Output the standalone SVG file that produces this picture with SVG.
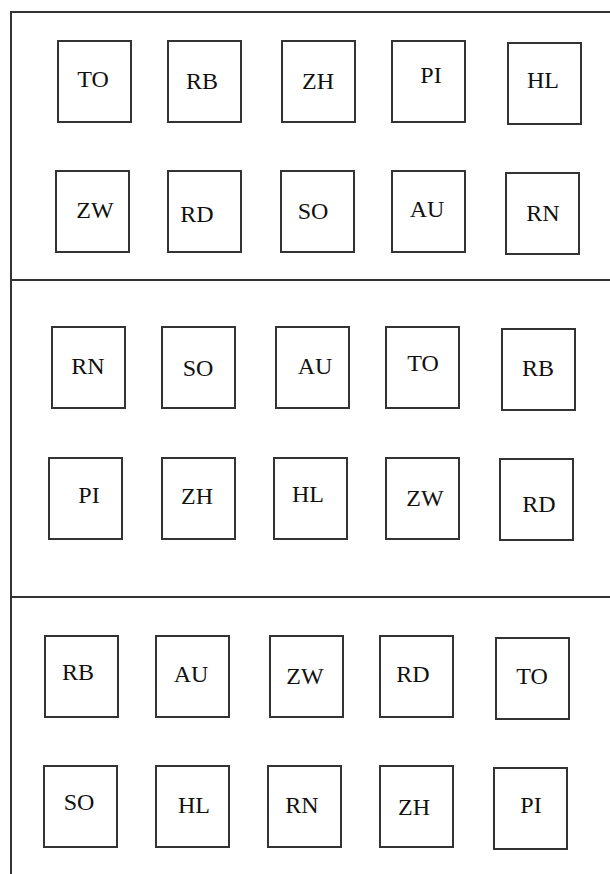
<svg xmlns="http://www.w3.org/2000/svg" width="610" height="874" viewBox="0 0 610 874">
<style>
.frame{fill:none;stroke:#333;stroke-width:2}
.box{fill:#fff;stroke:#333;stroke-width:2}
.lbl{font-family:"Liberation Serif","Times New Roman",serif;font-size:24px;fill:#111;text-anchor:middle}
</style>
<rect width="610" height="874" fill="#fff"/>
<g id="sections">
<path class="frame" d="M11,874 V12 H610"/>
<line class="frame" x1="11" y1="280" x2="610" y2="280"/>
<line class="frame" x1="11" y1="597" x2="610" y2="597"/>
</g>
<g id="s1-TO"><rect class="box" x="58" y="41" width="73" height="81"/><text class="lbl" x="93" y="87">TO</text></g>
<g id="s1-RB"><rect class="box" x="168" y="41" width="73" height="81"/><text class="lbl" x="202" y="89">RB</text></g>
<g id="s1-ZH"><rect class="box" x="282" y="41" width="73" height="81"/><text class="lbl" x="318" y="89">ZH</text></g>
<g id="s1-PI"><rect class="box" x="392" y="41" width="73" height="81"/><text class="lbl" x="431" y="83">PI</text></g>
<g id="s1-HL"><rect class="box" x="508" y="43" width="73" height="81"/><text class="lbl" x="543" y="88">HL</text></g>
<g id="s1-ZW"><rect class="box" x="56" y="171" width="73" height="81"/><text class="lbl" x="95" y="218">ZW</text></g>
<g id="s1-RD"><rect class="box" x="168" y="171" width="73" height="81"/><text class="lbl" x="197" y="222">RD</text></g>
<g id="s1-SO"><rect class="box" x="281" y="171" width="73" height="81"/><text class="lbl" x="313" y="219">SO</text></g>
<g id="s1-AU"><rect class="box" x="392" y="171" width="73" height="81"/><text class="lbl" x="427" y="217">AU</text></g>
<g id="s1-RN"><rect class="box" x="506" y="173" width="73" height="81"/><text class="lbl" x="543" y="221">RN</text></g>
<g id="s2-RN"><rect class="box" x="52" y="327" width="73" height="81"/><text class="lbl" x="88" y="374">RN</text></g>
<g id="s2-SO"><rect class="box" x="162" y="327" width="73" height="81"/><text class="lbl" x="198" y="376">SO</text></g>
<g id="s2-AU"><rect class="box" x="276" y="327" width="73" height="81"/><text class="lbl" x="315" y="374">AU</text></g>
<g id="s2-TO"><rect class="box" x="386" y="327" width="73" height="81"/><text class="lbl" x="423" y="371">TO</text></g>
<g id="s2-RB"><rect class="box" x="502" y="329" width="73" height="81"/><text class="lbl" x="538" y="376">RB</text></g>
<g id="s2-PI"><rect class="box" x="49" y="458" width="73" height="81"/><text class="lbl" x="89" y="503">PI</text></g>
<g id="s2-ZH"><rect class="box" x="162" y="458" width="73" height="81"/><text class="lbl" x="197" y="504">ZH</text></g>
<g id="s2-HL"><rect class="box" x="274" y="458" width="73" height="81"/><text class="lbl" x="308" y="502">HL</text></g>
<g id="s2-ZW"><rect class="box" x="386" y="458" width="73" height="81"/><text class="lbl" x="425" y="506">ZW</text></g>
<g id="s2-RD"><rect class="box" x="500" y="459" width="73" height="81"/><text class="lbl" x="539" y="512">RD</text></g>
<g id="s3-RB"><rect class="box" x="45" y="636" width="73" height="81"/><text class="lbl" x="78" y="680">RB</text></g>
<g id="s3-AU"><rect class="box" x="156" y="636" width="73" height="81"/><text class="lbl" x="191" y="682">AU</text></g>
<g id="s3-ZW"><rect class="box" x="270" y="636" width="73" height="81"/><text class="lbl" x="305" y="684">ZW</text></g>
<g id="s3-RD"><rect class="box" x="380" y="636" width="73" height="81"/><text class="lbl" x="413" y="682">RD</text></g>
<g id="s3-TO"><rect class="box" x="496" y="638" width="73" height="81"/><text class="lbl" x="532" y="684">TO</text></g>
<g id="s3-SO"><rect class="box" x="44" y="766" width="73" height="81"/><text class="lbl" x="79" y="810">SO</text></g>
<g id="s3-HL"><rect class="box" x="156" y="766" width="73" height="81"/><text class="lbl" x="194" y="813">HL</text></g>
<g id="s3-RN"><rect class="box" x="268" y="766" width="73" height="81"/><text class="lbl" x="302" y="813">RN</text></g>
<g id="s3-ZH"><rect class="box" x="380" y="766" width="73" height="81"/><text class="lbl" x="414" y="815">ZH</text></g>
<g id="s3-PI"><rect class="box" x="494" y="768" width="73" height="81"/><text class="lbl" x="531" y="813">PI</text></g>
</svg>
